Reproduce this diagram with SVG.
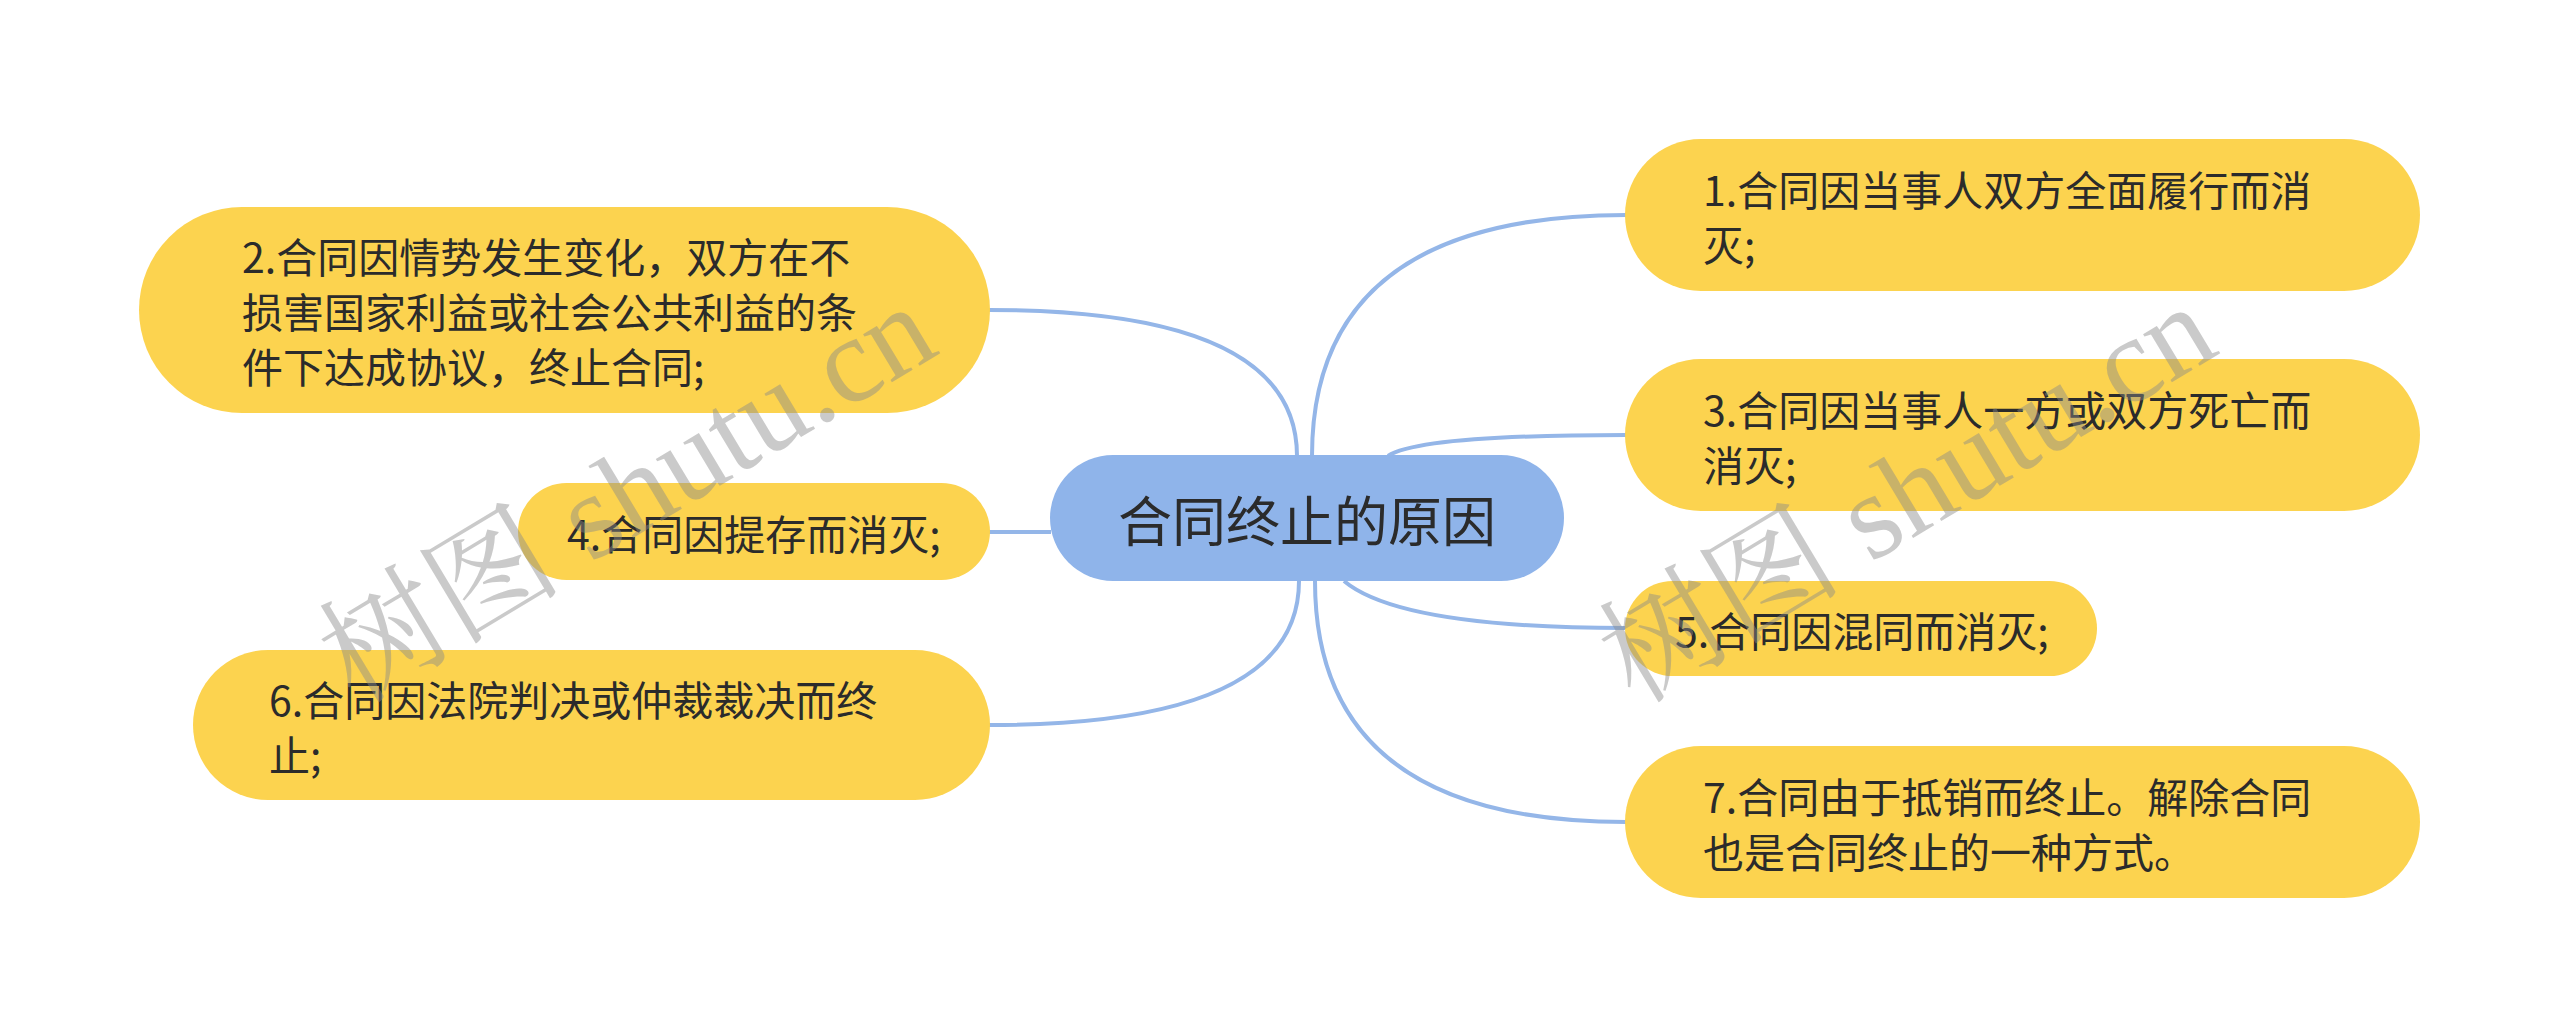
<svg xmlns="http://www.w3.org/2000/svg" width="2560" height="1036" viewBox="0 0 2560 1036">
<style>
.leaf rect{fill:#FCD34F;}
.root rect{fill:#8FB4EA;}
text{font-family:"Noto Sans CJK SC","Noto Sans",sans-serif;fill:#2b2b2b;dominant-baseline:central;}
.leaf text{font-size:41px;}
.root text{font-size:54px;text-anchor:middle;}
.conn path{fill:none;stroke:#94B6E8;stroke-width:4;}
.wm{font-family:"Liberation Serif","Noto Serif CJK SC","Noto Sans CJK SC",serif;font-size:122px;fill:#8a8a8a;fill-opacity:0.45;dominant-baseline:alphabetic;}
</style>
<rect width="2560" height="1036" fill="#ffffff"/>
<g id="connectors" class="conn">
<path d="M1312 456 Q1312 215 1626 215"/>
<path d="M1388 456 Q1420 435 1626 435"/>
<path d="M1344 581 Q1400 628 1626 628"/>
<path d="M1315 581 Q1315 822 1626 822"/>
<path d="M1297 456 Q1297 310 989 310"/>
<path d="M1051 532 L989 532"/>
<path d="M1299 581 Q1299 725 989 725"/>
</g>
<g id="root" class="root">
<rect x="1050" y="455" width="514" height="126" rx="63"/>
<text x="1307" y="518">合同终止的原因</text>
</g>
<g id="n1" class="leaf">
<rect x="1625" y="139" width="795" height="152" rx="76"/>
<text x="1703" y="187.5">1.合同因当事人双方全面履行而消</text>
<text x="1703" y="242.5">灭;</text>
</g>
<g id="n3" class="leaf">
<rect x="1625" y="359" width="795" height="152" rx="76"/>
<text x="1703" y="407.5">3.合同因当事人一方或双方死亡而</text>
<text x="1703" y="462.5">消灭;</text>
</g>
<g id="n5" class="leaf">
<rect x="1625" y="581" width="472" height="95" rx="47.5"/>
<text x="1675" y="628.5">5.合同因混同而消灭;</text>
</g>
<g id="n7" class="leaf">
<rect x="1625" y="746" width="795" height="152" rx="76"/>
<text x="1703" y="794.5">7.合同由于抵销而终止。解除合同</text>
<text x="1703" y="849.5">也是合同终止的一种方式。</text>
</g>
<g id="n2" class="leaf">
<rect x="139" y="207" width="851" height="206" rx="103"/>
<text x="242" y="255">2.合同因情势发生变化，双方在不</text>
<text x="242" y="310">损害国家利益或社会公共利益的条</text>
<text x="242" y="365">件下达成协议，终止合同;</text>
</g>
<g id="n4" class="leaf">
<rect x="518" y="483" width="472" height="97" rx="48.5"/>
<text x="567" y="531.5">4.合同因提存而消灭;</text>
</g>
<g id="n6" class="leaf">
<rect x="193" y="650" width="797" height="150" rx="75"/>
<text x="269" y="697.5">6.合同因法院判决或仲裁裁决而终</text>
<text x="269" y="752.5">止;</text>
</g>
<text class="wm" transform="rotate(-31 355 705)" x="355" y="705">树图 shutu.cn</text>
<text class="wm" transform="rotate(-31 1635 705)" x="1635" y="705">树图 shutu.cn</text>
</svg>
